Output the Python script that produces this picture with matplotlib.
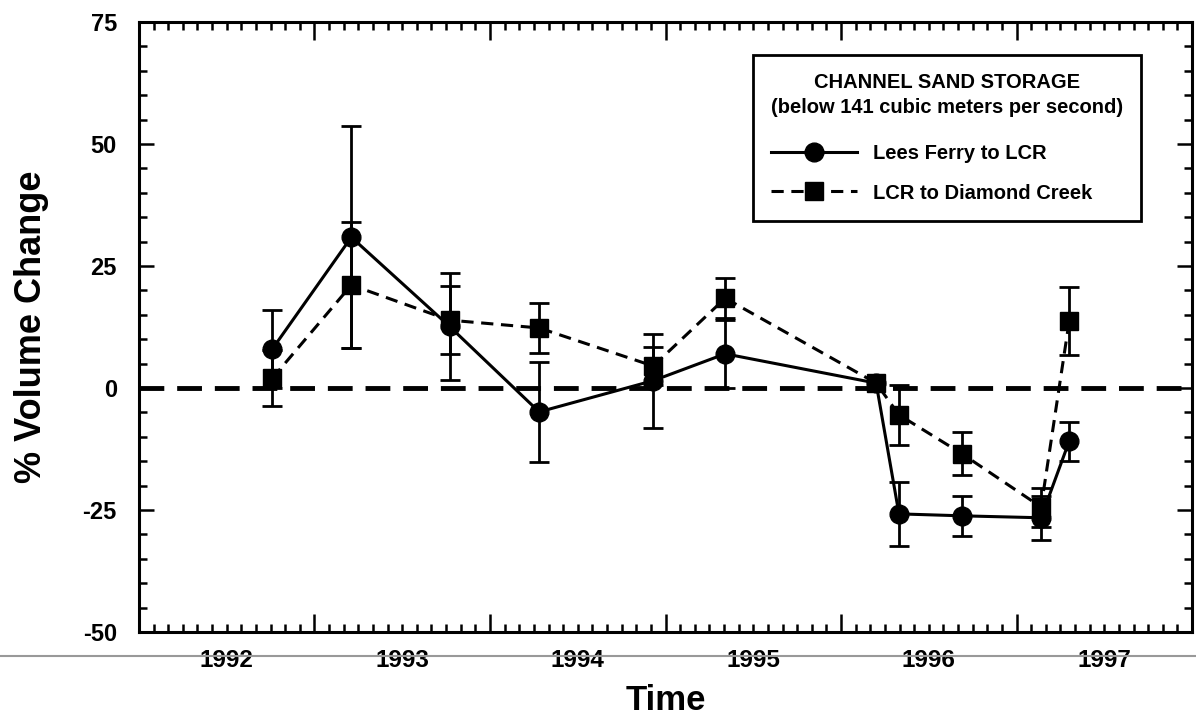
import numpy as np
import matplotlib
matplotlib.use("Agg")
import matplotlib.pyplot as plt
from matplotlib.ticker import MultipleLocator, NullFormatter
import matplotlib.transforms as mtransforms

plt.rcParams['font.family'] = ['Liberation Sans', 'DejaVu Sans']
plt.rcParams['font.weight'] = 'bold'
plt.rcParams['axes.unicode_minus'] = False

# Survey dates (decimal years) and % volume change
survey_dates = [1992.76, 1993.21, 1993.77, 1994.28, 1994.93, 1995.34,
                1996.20, 1996.33, 1996.69, 1997.14, 1997.30]
lees_ferry = [8.0, 30.9, 12.6, -4.9, 1.5, 7.0, 1.0, -25.8, -26.2, -26.6, -10.9]
lees_ferry_err = [8.0, 22.8, 11.0, 10.3, 9.6, 7.0, 0.0, 6.5, 4.1, 4.5, 4.0]
diamond_creek = [2.0, 21.1, 13.9, 12.3, 4.5, 18.4, 1.0, -5.5, -13.5, -24.4, 13.7]
diamond_creek_err = [5.7, 13.0, 7.0, 5.1, 3.9, 4.1, 0.0, 6.2, 4.4, 4.0, 7.0]
year_labels = [1992, 1993, 1994, 1995, 1996, 1997]

fig = plt.figure(figsize=(11.96, 7.17), dpi=100)
ax = fig.add_axes([0.1162, 0.1186, 0.8805, 0.8507])

# zero reference line
ax.axhline(0, color='black', lw=3.5, linestyle=(0, (5.1, 2.65)), zorder=1)

x = np.array(survey_dates)

# Lees Ferry to LCR
lf = np.array(lees_ferry)
lfe = np.array(lees_ferry_err)
m = lfe > 0
ax.errorbar(x[m], lf[m], yerr=lfe[m], fmt='none', ecolor='black',
            elinewidth=2, capsize=7, capthick=2, zorder=2)
ax.plot(x, lf, color='black', lw=2.2, marker='o', markersize=13.5,
        label='Lees Ferry to LCR', zorder=3)

# LCR to Diamond Creek
dc = np.array(diamond_creek)
dce = np.array(diamond_creek_err)
m = dce > 0
ax.errorbar(x[m], dc[m], yerr=dce[m], fmt='none', ecolor='black',
            elinewidth=2, capsize=7, capthick=2, zorder=2)
ax.plot(x, dc, color='black', lw=2.2, linestyle=(0, (4, 2.5)), marker='s',
        markersize=13.5, label='LCR to Diamond Creek', zorder=4)

ax.set_xlim(1992, 1998)
ax.set_ylim(-50, 75)

# x: long ticks at year boundaries, monthly minor ticks, labels mid-year
ax.xaxis.set_major_locator(MultipleLocator(1))
ax.xaxis.set_minor_locator(MultipleLocator(1 / 12))
ax.xaxis.set_major_formatter(NullFormatter())
ax.yaxis.set_major_locator(MultipleLocator(25))
ax.yaxis.set_minor_locator(MultipleLocator(5))
ax.tick_params(which='both', direction='in', top=True, right=True,
               width=1.8, labelsize=17)
ax.tick_params(axis='x', which='major', length=13)
ax.tick_params(axis='x', which='minor', length=6)
ax.tick_params(axis='y', which='major', length=11, pad=16)
ax.tick_params(axis='y', which='minor', length=6)
for lab in ax.get_yticklabels():
    lab.set_fontweight('bold')

trans = mtransforms.blended_transform_factory(ax.transData, ax.transAxes)
for yr in year_labels:
    ax.text(yr + 0.5, -0.028, str(yr), transform=trans, ha='center', va='top',
            fontsize=17.5, fontweight='bold')

for s in ax.spines.values():
    s.set_linewidth(2.2)

ax.set_ylabel('% Volume Change', fontsize=26, fontweight='bold', labelpad=24)
ax.set_xlabel('Time', fontsize=25, fontweight='bold', labelpad=34)

leg = ax.legend(loc='upper right', bbox_to_anchor=(0.954, 0.923),
                bbox_transform=fig.transFigure, frameon=True, fancybox=False,
                edgecolor='black', framealpha=1, fontsize=14.5,
                title='CHANNEL SAND STORAGE\n(below 141 cubic meters per second)',
                title_fontproperties={'size': 14.5, 'weight': 'bold'},
                handlelength=4.3, handletextpad=0.8, labelspacing=1.0,
                borderpad=0.9, borderaxespad=0, alignment='left')
leg.get_title().set_multialignment('center')
leg.get_title().set_linespacing(1.35)
leg._legend_box.sep = 20
leg.get_frame().set_linewidth(2)
for t in leg.get_texts():
    t.set_fontweight('bold')

# faint scan line under the axis
fig.add_artist(plt.Line2D([0, 1], [0.0844, 0.0844], transform=fig.transFigure,
                          color='#999999', lw=1.5))

fig.savefig('out.png', dpi=100)
